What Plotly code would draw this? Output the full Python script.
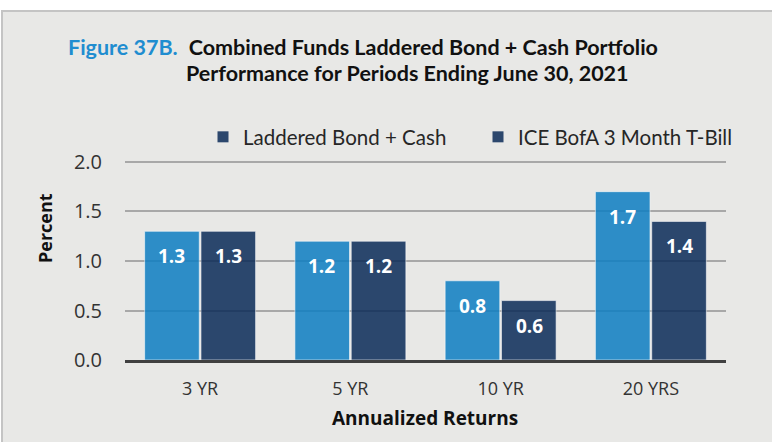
import plotly.graph_objects as go

categories = ["3 YR", "5 YR", "10 YR", "20 YRS"]
laddered = [1.3, 1.2, 0.8, 1.7]
tbill = [1.3, 1.2, 0.6, 1.4]
series_names = ["Laddered Bond + Cash", "ICE BofA 3 Month T-Bill"]
y_ticks = [0.0, 0.5, 1.0, 1.5, 2.0]

W, H = 772, 442
L, R, T, B = 125, 46, 160, 82
PW, PH = W - L - R, H - T - B

def px_x(p):
    return (p - L) / PW

def px_y(p):
    return (H - B - p) / PH

LIGHT = "#0d7ec2"
DARK = "#0b2b58"
BG = "#e8e8e6"
TFONT = "Open Sans"
CFONT = "Lato"

fig = go.Figure()
for vals, col, name in [(laddered, LIGHT, series_names[0]), (tbill, DARK, series_names[1])]:
    fig.add_trace(go.Bar(
        x=categories, y=vals, name=name, showlegend=False,
        marker=dict(color=col, opacity=0.85,
                    line=dict(color="rgba(255,255,255,0.6)", width=1)),
        hoverinfo="skip",
    ))
# legend entries (reference shows both legend swatches in navy)
for name in series_names:
    fig.add_trace(go.Scatter(x=[None], y=[None], name=name, mode="markers",
                             marker=dict(color="#2c476d", symbol="square", size=11),
                             showlegend=True))

# data labels
for vals, shift in [(laddered, -28.5), (tbill, 28.5)]:
    for c, v in zip(categories, vals):
        fig.add_annotation(x=c, y=v, xref="x", yref="y", text=f"<b>{v:.1f}</b>",
                           showarrow=False, xshift=shift, yshift=-25,
                           font=dict(family=TFONT, size=19, color="white"))

# background frame
fig.add_shape(type="rect", xref="paper", yref="paper",
              x0=px_x(2), x1=px_x(W + 5), y0=px_y(H + 5), y1=px_y(11),
              fillcolor=BG, line=dict(color="#c4c4c4", width=2), layer="below")

# title
fig.add_annotation(xref="paper", yref="paper", x=px_x(66), y=px_y(47),
                   xanchor="left", yanchor="middle", showarrow=False,
                   text="<span style='color:#1f8dd0'><b>Figure 37B.</b></span>  <b>Combined Funds Laddered Bond + Cash Portfolio</b>",
                   font=dict(family=CFONT, size=21.5, color="#111111"))
fig.add_annotation(xref="paper", yref="paper", x=px_x(184), y=px_y(73),
                   xanchor="left", yanchor="middle", showarrow=False,
                   text="<b>Performance for Periods Ending June 30, 2021</b>",
                   font=dict(family=CFONT, size=21.5, color="#111111"))
# axis titles
fig.add_annotation(xref="paper", yref="paper", x=px_x(45), y=px_y(228),
                   xanchor="center", yanchor="middle", showarrow=False, textangle=-90,
                   text="<b>Percent</b>", font=dict(family=TFONT, size=18, color="#111111"))
fig.add_annotation(xref="paper", yref="paper", x=px_x(425), y=px_y(418),
                   xanchor="center", yanchor="middle", showarrow=False,
                   text="<b>Annualized Returns</b>", font=dict(family=TFONT, size=19, color="#111111"))

fig.update_layout(
    width=W, height=H,
    margin=dict(l=L, r=R, t=T, b=B, autoexpand=False),
    paper_bgcolor="white", plot_bgcolor=BG,
    barmode="group", bargap=0.25, bargroupgap=0.03,
    legend=dict(orientation="h", x=px_x(203), y=px_y(137), xanchor="left", yanchor="middle",
                bgcolor="rgba(0,0,0,0)", font=dict(family=CFONT, size=20.5, color="#262626"),
                entrywidth=230, entrywidthmode="pixels", itemclick=False),
    xaxis=dict(showline=True, linecolor="#404040", linewidth=3, ticks="",
               tickfont=dict(family=TFONT, size=18, color="#333333"),
               ticklabelstandoff=10),
    yaxis=dict(range=[0, 2.02], tickvals=y_ticks, tickformat=".1f", showgrid=True,
               gridcolor="#a8a8a8", gridwidth=2, zeroline=False, ticks="",
               tickfont=dict(family=TFONT, size=20, color="#333333"),
               ticklabelstandoff=22, fixedrange=True),
)

fig.write_html("out.html", config={"displayModeBar": False},
               post_script="document.body.style.margin='0';document.body.style.overflow='hidden';")
